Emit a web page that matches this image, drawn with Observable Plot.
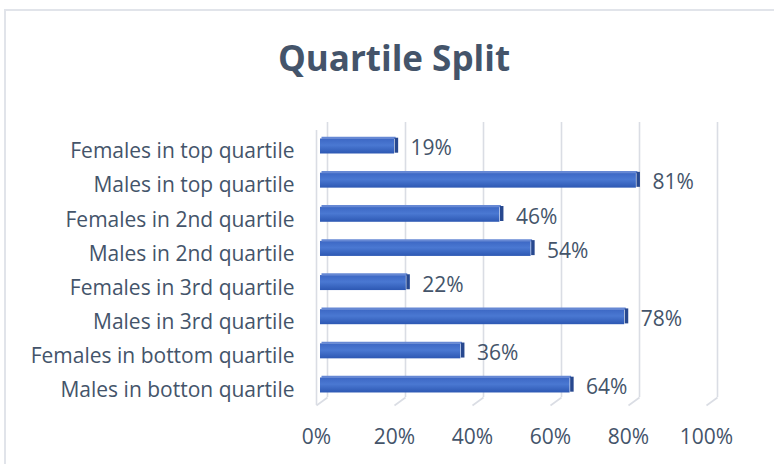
<!DOCTYPE html>
<html>
<head>
<meta charset="utf-8">
<script src="https://cdn.jsdelivr.net/npm/d3@7"></script>
<script src="https://cdn.jsdelivr.net/npm/@observablehq/plot@0.6"></script>
<style>
  html, body { margin: 0; padding: 0; background: #fff; }
  #wrap { position: relative; width: 774px; height: 464px; overflow: hidden; }
  #border { position: absolute; left: 4px; top: 9px; width: 800px; height: 500px;
            border-left: 2px solid #e1e4ea; border-top: 2px solid #e1e4ea; }
  #title { position: absolute; left: 0; width: 788px; top: 34px; text-align: center;
           font-family: "Open Sans", sans-serif; font-weight: bold; font-size: 35px; color: #44546A; }
  #chart { position: absolute; left: 0; top: 0; }
</style>
</head>
<body>
<div id="wrap">
  <div id="border"></div>
  <div id="title">Quartile Split</div>
  <div id="chart"></div>
</div>
<script>
const categories = [
  "Females in top quartile",
  "Males in top quartile",
  "Females in 2nd quartile",
  "Males in 2nd quartile",
  "Females in 3rd quartile",
  "Males in 3rd quartile",
  "Females in bottom quartile",
  "Males in botton quartile"
];
const values = [19, 81, 46, 54, 22, 78, 36, 64];
const ticks = [0, 20, 40, 60, 80, 100];
const tickLabels = ["0%", "20%", "40%", "60%", "80%", "100%"];

const data = categories.map((c, i) => ({cat: c, idx: i, value: values[i]}));

const W = 774, H = 464;
const xLeft = 316, xRight = 706;
const yTop = 122, yBottom = 405;
const pxPerUnitX = (xRight - xLeft) / 100;
const rowPx = 34.14;
const firstRow = 146;
const yDomain = [(yTop - firstRow) / rowPx, (yBottom - firstRow) / rowPx];
const depthX = 11 / pxPerUnitX;          // wall depth in x units
const backBottom = (397 - firstRow) / rowPx;
const sideTop = (130 - firstRow) / rowPx;
const halfBar = 7.5 / rowPx;
const axisRow = (437 - firstRow) / rowPx;

const grid = "#dadde4";
const textCol = "#44546A";
const fs = 21;

const chart = Plot.plot({
  width: W, height: H,
  marginLeft: 0, marginRight: 0, marginTop: 0, marginBottom: 0,
  x: {domain: [0, 100], range: [xLeft, xRight], axis: null},
  y: {domain: yDomain, range: [yTop, yBottom], axis: null},
  style: {fontFamily: "'Open Sans', sans-serif", color: textCol, background: "transparent"},
  marks: [
    Plot.ruleX([0], {x: d => d, y1: sideTop, y2: yDomain[1], stroke: grid, strokeWidth: 1.6}),
    Plot.ruleX(ticks, {x: d => d + depthX, y1: yDomain[0], y2: backBottom, stroke: grid, strokeWidth: 1.6}),
    Plot.link(ticks, {x1: d => d + depthX, y1: backBottom, x2: d => d, y2: yDomain[1], stroke: grid, strokeWidth: 1.6}),
    Plot.rect(data, {x1: 0, x2: "value", y1: d => d.idx - halfBar, y2: d => d.idx + halfBar,
      fill: "url(#barGrad)", dx: 4}),
    Plot.ruleY(data, {x1: 0, x2: "value", y: d => d.idx - halfBar, stroke: "#6688d4", strokeWidth: 2.2, dx: 5.5, dy: -1.1}),
    Plot.ruleX(data, {x: "value", y1: d => d.idx - halfBar, y2: d => d.idx + halfBar, stroke: "#27488f", strokeWidth: 3.5, dx: 5.8, dy: -0.8}),
    Plot.text(data, {x: "value", y: "idx", text: d => d.value + "%", textAnchor: "start", dx: 20, dy: 2,
      fontSize: fs, fill: textCol}),
    Plot.text(data, {x: 0, y: "idx", text: "cat", textAnchor: "end", dx: -22, dy: 5, fontSize: fs, fill: textCol}),
    Plot.text(ticks, {x: d => d, y: axisRow, text: (d, i) => tickLabels[i], fontSize: fs, fill: textCol})
  ]
});

const defs = d3.select(chart).insert("defs", ":first-child");
const g = defs.append("linearGradient").attr("id", "barGrad").attr("x1", 0).attr("y1", 0).attr("x2", 0).attr("y2", 1);
g.append("stop").attr("offset", "0%").attr("stop-color", "#3c67c4");
g.append("stop").attr("offset", "45%").attr("stop-color", "#4a78d2");
g.append("stop").attr("offset", "100%").attr("stop-color", "#2d58b3");

document.getElementById("chart").appendChild(chart);
</script>
</body>
</html>
